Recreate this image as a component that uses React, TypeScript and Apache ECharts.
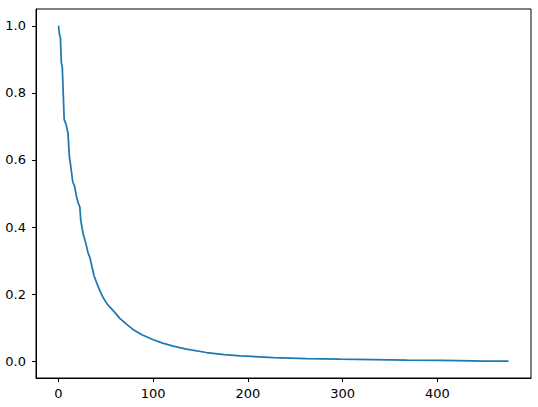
import React, { useEffect, useRef } from "react";
import * as echarts from "echarts";

const xValues = [
  0, 1, 2, 3, 4, 6, 8, 10, 11.5, 13, 15, 17, 19, 21, 22.5, 23.5, 26, 29, 31, 33, 35.5, 37.5,
  40, 43.5, 47, 52, 58, 65, 72, 79, 88, 100, 110, 121, 135, 156, 175, 192, 227, 262, 297,
  332, 368, 403, 438, 450, 475,
];
const yValues = [
  1.0, 0.975, 0.965, 0.89, 0.876, 0.72, 0.706, 0.68, 0.61, 0.58, 0.535, 0.522, 0.49, 0.47,
  0.46, 0.42, 0.38, 0.35, 0.325, 0.31, 0.28, 0.255, 0.236, 0.211, 0.19, 0.168, 0.15, 0.127,
  0.11, 0.094, 0.079, 0.064, 0.054, 0.045, 0.036, 0.026, 0.02, 0.016, 0.011, 0.008, 0.006,
  0.005, 0.0035, 0.0025, 0.001, 0.0, 0.0,
];
const xTicks = [0, 100, 200, 300, 400];
const yTicks = [0, 0.2, 0.4, 0.6, 0.8, 1.0];

export default function App() {
  const ref = useRef<HTMLDivElement>(null);
  useEffect(() => {
    document.body.style.margin = "0";
    const chart = echarts.init(ref.current!, null, { renderer: "svg" });
    const font = { fontFamily: "DejaVu Sans", fontSize: 13, color: "#000" };
    chart.setOption({
      animation: false,
      backgroundColor: "#fff",
      grid: {
        left: 36,
        right: 7,
        top: 9,
        bottom: 29,
        show: true,
        borderColor: "#000",
        borderWidth: 1,
        backgroundColor: "transparent",
      },
      xAxis: {
        type: "value",
        min: -23.75,
        max: 498.75,
        axisLine: { show: true, onZero: false, lineStyle: { color: "#000", width: 1 } },
        axisTick: { show: true, length: 4, lineStyle: { color: "#000" }, customValues: xTicks },
        axisLabel: { ...font, margin: 9, customValues: xTicks, formatter: (v: number) => String(v) },
        splitLine: { show: false },
      },
      yAxis: {
        type: "value",
        min: -0.05,
        max: 1.05,
        axisLine: { show: true, onZero: false, lineStyle: { color: "#000", width: 1 } },
        axisTick: { show: true, length: 4, lineStyle: { color: "#000" }, customValues: yTicks },
        axisLabel: { ...font, margin: 10, customValues: yTicks, formatter: (v: number) => v.toFixed(1) },
        splitLine: { show: false },
      },
      series: [
        {
          type: "line",
          data: xValues.map((x, i) => [x, yValues[i]]),
          showSymbol: false,
          symbol: "none",
          lineStyle: { color: "#1f77b4", width: 1.75 },
          clip: true,
        },
      ],
    });
    return () => chart.dispose();
  }, []);
  return <div ref={ref} style={{ width: 538, height: 407 }} />;
}
